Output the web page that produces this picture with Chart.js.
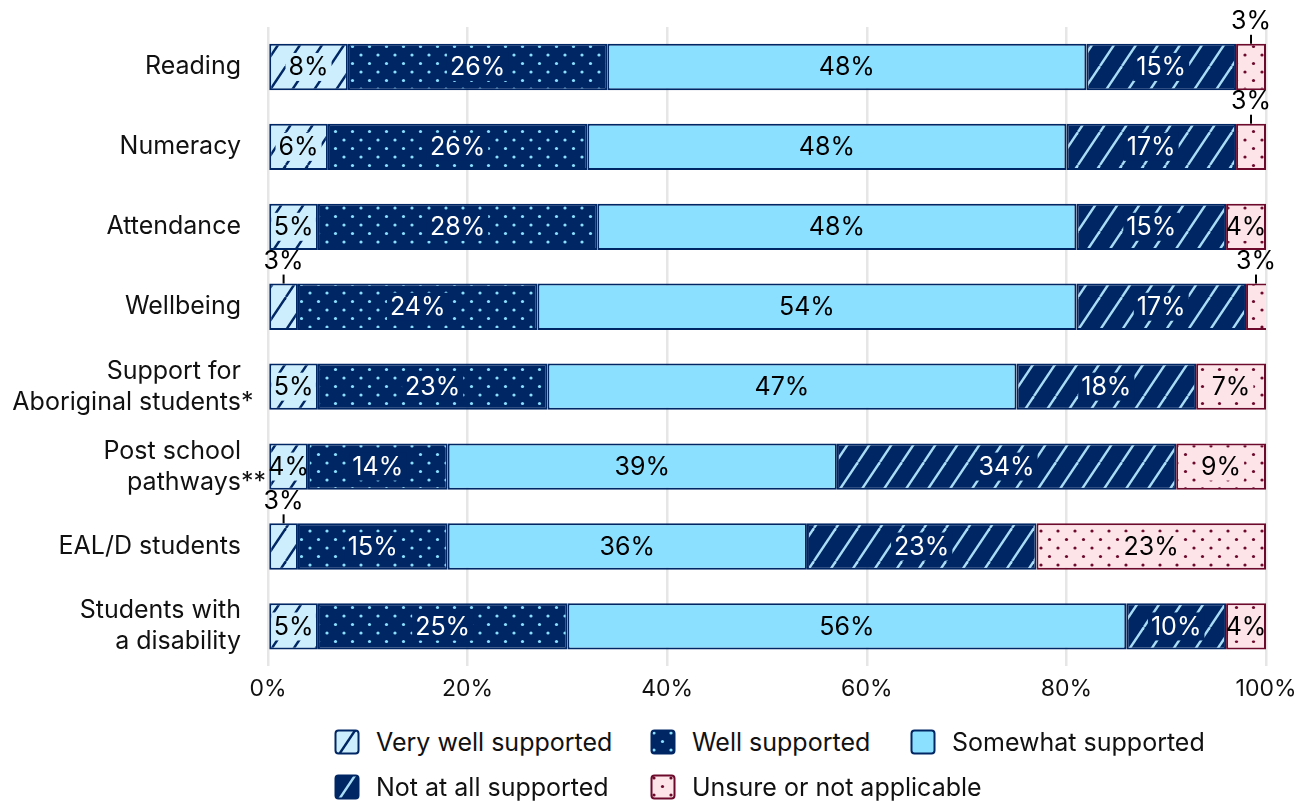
<!DOCTYPE html>
<html>
<head>
<meta charset="utf-8">
<script src="https://cdn.jsdelivr.net/npm/chart.js@4.4.1/dist/chart.umd.min.js"></script>
<style>
  html, body { margin: 0; padding: 0; background: #fff; }
  body { width: 1299px; height: 801px; position: relative; overflow: hidden; font-family: Inter, sans-serif; }
  #wrap { position: absolute; left: 0; top: 0; width: 1299px; height: 720px; }
  #legend {
    position: absolute; left: 334px; top: 729px;
    display: grid; grid-template-columns: 316px 260px auto; row-gap: 19px;
    font-size: 25px; color: #111;
  }
  .item { display: flex; align-items: center; height: 26px; white-space: nowrap; }
  .item canvas { margin-right: 16px; }
</style>
</head>
<body>
<div id="wrap"><canvas id="barchart"></canvas></div>
<div id="legend"></div>
<script>
var categories = ['Reading', 'Numeracy', 'Attendance', 'Wellbeing',
  ['Support for', 'Aboriginal students*'], ['Post school', 'pathways**'],
  'EAL/D students', ['Students with', 'a disability']];
var seriesNames = ['Very well supported', 'Well supported', 'Somewhat supported',
  'Not at all supported', 'Unsure or not applicable'];
var veryWell = [8, 6, 5, 3, 5, 4, 3, 5];
var well = [26, 26, 28, 24, 23, 14, 15, 25];
var somewhat = [48, 48, 48, 54, 47, 39, 36, 56];
var notAtAll = [15, 17, 15, 17, 18, 34, 23, 10];
var unsure = [3, 3, 4, 3, 7, 9, 23, 4];
var xTicks = [0, 20, 40, 60, 80, 100];

var navy = '#002664';
var sky = '#8ce0ff';
var pale = '#cdeefd';
var pink = '#fde4e9';
var maroon = '#6d0a2c';
var font = 'Inter, sans-serif';

// fill styles: stripes or dots over a base colour
function drawStripes(c, bg, fg) {
  var w = 22, h = 33;
  c.width = w; c.height = h;
  var g = c.getContext('2d');
  g.fillStyle = bg; g.fillRect(0, 0, w, h);
  g.strokeStyle = fg; g.lineWidth = 2.4;
  for (var k = -1; k <= 1; k++) {
    g.beginPath(); g.moveTo(k * w, h); g.lineTo(k * w + w, 0); g.stroke();
  }
}
function drawDots(c, bg, fg) {
  var s = 17;
  c.width = s; c.height = s;
  var g = c.getContext('2d');
  g.fillStyle = bg; g.fillRect(0, 0, s, s);
  g.fillStyle = fg;
  [[4, 4], [12.5, 12.5]].forEach(function (p) {
    g.beginPath(); g.arc(p[0], p[1], 1.6, 0, Math.PI * 2); g.fill();
  });
}
function pattern(kind, bg, fg) {
  var c = document.createElement('canvas');
  if (kind === 'stripes') drawStripes(c, bg, fg);
  else if (kind === 'dots') drawDots(c, bg, fg);
  else { c.width = c.height = 4; var g = c.getContext('2d'); g.fillStyle = bg; g.fillRect(0, 0, 4, 4); }
  return c.getContext('2d').createPattern(c, 'repeat');
}

var styles = [
  { kind: 'stripes', bg: pale, fg: navy, border: navy, text: '#000' },
  { kind: 'dots', bg: navy, fg: sky, border: navy, text: '#fff' },
  { kind: 'solid', bg: sky, fg: sky, border: navy, text: '#000' },
  { kind: 'stripes', bg: navy, fg: '#a9dcf5', border: navy, text: '#fff' },
  { kind: 'dots', bg: pink, fg: maroon, border: maroon, text: '#000' }
];
var values = [veryWell, well, somewhat, notAtAll, unsure];

var datasets = values.map(function (d, i) {
  var st = styles[i];
  return {
    label: seriesNames[i],
    data: d,
    backgroundColor: pattern(st.kind, st.bg, st.fg),
    borderColor: st.border,
    borderWidth: 2,
    borderSkipped: false,
    barPercentage: 0.58,
    categoryPercentage: 1
  };
});

// value labels inside each segment, small ones lifted above the bar
var valueLabels = {
  id: 'valueLabels',
  afterDatasetsDraw: function (chart) {
    var ctx = chart.ctx;
    ctx.save();
    ctx.font = '25px ' + font;
    ctx.textAlign = 'center';
    ctx.textBaseline = 'middle';
    chart.data.datasets.forEach(function (ds, i) {
      var st = styles[i];
      chart.getDatasetMeta(i).data.forEach(function (bar, j) {
        var v = ds.data[j];
        var txt = v + '%';
        var right = Math.min(bar.x, chart.chartArea.right);
        var cx = (right + bar.base) / 2;
        var top = bar.y - bar.height / 2;
        if (v < 4) {
          ctx.strokeStyle = '#000';
          ctx.lineWidth = 2;
          ctx.beginPath(); ctx.moveTo(cx, top); ctx.lineTo(cx, top - 9); ctx.stroke();
          ctx.fillStyle = '#000';
          ctx.fillText(txt, cx, top - 22);
        } else {
          var w = Math.min(ctx.measureText(txt).width + 6, right - bar.base - 4);
          ctx.fillStyle = st.bg;
          ctx.fillRect(cx - w / 2, bar.y - 14, w, 28);
          ctx.fillStyle = st.text;
          ctx.fillText(txt, cx, bar.y + 1);
        }
      });
    });
    ctx.restore();
  }
};

// category names, right aligned with trailing asterisks hanging past the edge
var categoryLabels = {
  id: 'categoryLabels',
  afterDraw: function (chart) {
    var ctx = chart.ctx;
    var y = chart.scales.y;
    var edge = chart.chartArea.left - 27;
    ctx.save();
    ctx.font = '25px ' + font;
    ctx.fillStyle = '#111';
    ctx.textBaseline = 'middle';
    ctx.textAlign = 'left';
    categories.forEach(function (lab, i) {
      var lines = Array.isArray(lab) ? lab : [lab];
      var cy = y.getPixelForValue(i);
      var lh = 31;
      lines.forEach(function (ln, k) {
        var core = ln.replace(/\*+$/, '');
        var w = ctx.measureText(core).width;
        var ly = cy + (k - (lines.length - 1) / 2) * lh;
        ctx.fillText(ln, edge - w, ly);
      });
    });
    ctx.restore();
  }
};

var ctx = document.getElementById('barchart').getContext('2d');
var myChart = new Chart(ctx, {
  type: 'bar',
  data: { labels: categories, datasets: datasets },
  plugins: [valueLabels, categoryLabels],
  options: {
    indexAxis: 'y',
    responsive: true,
    maintainAspectRatio: false,
    animation: false,
    layout: { padding: { left: 268, right: 33, top: 27, bottom: 8 } },
    plugins: { legend: { display: false }, tooltip: { enabled: false } },
    scales: {
      x: {
        stacked: true,
        min: 0,
        max: 100,
        afterBuildTicks: function (axis) { axis.ticks = xTicks.map(function (v) { return { value: v }; }); },
        // end labels may overhang the plot, keep the plot edges fixed
        afterFit: function (axis) { axis.paddingLeft = 0; axis.paddingRight = 0; },
        ticks: {
          padding: 9,
          color: '#111',
          font: { family: font, size: 23 },
          callback: function (v) { return v + '%'; }
        },
        grid: { color: '#e6e6e6', lineWidth: 2.5, drawTicks: false },
        border: { display: false }
      },
      y: {
        stacked: true,
        display: false
      }
    }
  }
});

// legend laid out in columns, swatches use the same fills
var legend = document.getElementById('legend');
seriesNames.forEach(function (name, i) {
  var st = styles[i];
  var item = document.createElement('div');
  item.className = 'item';
  var sw = document.createElement('canvas');
  sw.width = 26; sw.height = 26;
  var g = sw.getContext('2d');
  g.fillStyle = pattern(st.kind, st.bg, st.fg);
  g.strokeStyle = st.border;
  g.lineWidth = 2;
  g.beginPath(); g.roundRect(1.5, 1.5, 23, 23, 3); g.fill(); g.stroke();
  var span = document.createElement('span');
  span.textContent = name;
  item.appendChild(sw); item.appendChild(span);
  legend.appendChild(item);
});
</script>
</body>
</html>
